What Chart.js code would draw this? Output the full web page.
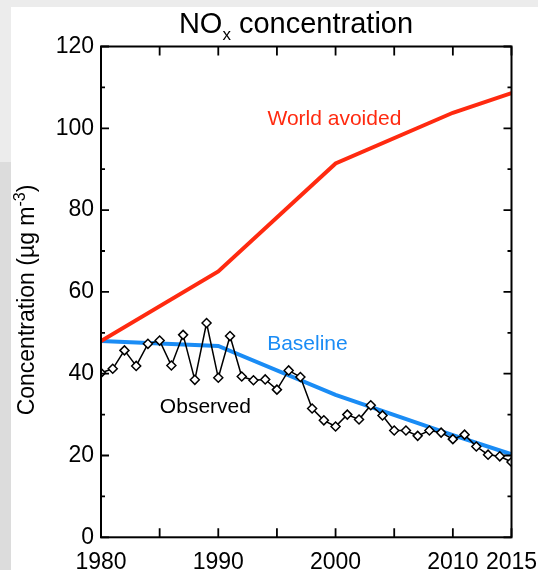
<!DOCTYPE html>
<html><head><meta charset="utf-8">
<script src="https://cdn.jsdelivr.net/npm/chart.js@4"></script>
<style>
html,body{margin:0;padding:0;}
body{width:538px;height:570px;background:#ececec;position:relative;overflow:hidden;}
#strip{position:absolute;left:0;top:162px;width:11px;height:408px;background:#dcdcdc;}
#panel{position:absolute;left:11px;top:7px;right:0;bottom:0;background:#fff;}
#wrap{position:absolute;left:0;top:0;width:538px;height:570px;}
</style></head>
<body>
<div id="strip"></div><div id="panel"></div>
<div id="wrap"><canvas id="c" width="538" height="570"></canvas></div>
<script>
// ---- data ----
const obsYears = [1980,1981,1982,1983,1984,1985,1986,1987,1988,1989,1990,1991,1992,1993,1994,1995,1996,1997,1998,1999,2000,2001,2002,2003,2004,2005,2006,2007,2008,2009,2010,2011,2012,2013,2014,2015];
const observed = [40.2,41.2,45.7,41.9,47.3,48.1,42.0,49.5,38.5,52.4,39.0,49.2,39.3,38.4,38.6,36.1,40.8,39.2,31.5,28.6,27.1,30.0,28.8,32.3,29.8,26.1,26.1,24.8,26.1,25.6,24.0,25.1,22.2,20.2,19.8,18.4];
const scenarioYears = [1980,1990,2000,2010,2015];
const worldAvoided = [48.0,65.0,91.4,103.8,108.6];
const baseline = [48.0,46.8,34.8,25.0,20.3];
const xTickLabels = [1980,1990,2000,2010,2015];
const yTickLabels = [0,20,40,60,80,100,120];
const seriesNames = ['World avoided','Baseline','Observed'];

const FONT = '"Liberation Sans", Arial, Helvetica, sans-serif';
const RED = '#ff2a10', BLUE = '#1a8cf5';

const pts = (xs, ys) => xs.map((x, i) => ({x: x, y: ys[i]}));

// label anchors (data space) for in-plot series names
const seriesLabelAnchors = [
  {text: seriesNames[0], color: RED,  x: 1999.9, y: 100.8},
  {text: seriesNames[1], color: BLUE, x: 1997.6, y: 45.7},
  {text: seriesNames[2], color: '#000', x: 1988.9, y: 30.3}
];

const framePlugin = {
  id: 'frame',
  afterDraw(chart) {
    const ctx = chart.ctx, ca = chart.chartArea;
    const xs = chart.scales.x, ys = chart.scales.y;
    ctx.save();
    ctx.strokeStyle = '#000';
    ctx.lineWidth = 2;
    ctx.strokeRect(ca.left, ca.top, ca.right - ca.left, ca.bottom - ca.top);
    ctx.lineWidth = 1.8;
    ctx.beginPath();
    xs.ticks.forEach(t => {
      const px = xs.getPixelForValue(t.value);
      ctx.moveTo(px, ca.bottom); ctx.lineTo(px, ca.bottom - 9);
      ctx.moveTo(px, ca.top); ctx.lineTo(px, ca.top + 9);
    });
    ys.ticks.forEach(t => {
      const py = ys.getPixelForValue(t.value);
      const len = yTickLabels.includes(t.value) ? 8 : 4;
      ctx.moveTo(ca.left, py); ctx.lineTo(ca.left + len, py);
      ctx.moveTo(ca.right, py); ctx.lineTo(ca.right - len, py);
    });
    ctx.stroke();

    // series name labels
    ctx.font = '21px ' + FONT;
    ctx.textAlign = 'center';
    ctx.textBaseline = 'alphabetic';
    seriesLabelAnchors.forEach(a => {
      ctx.fillStyle = a.color;
      ctx.fillText(a.text, xs.getPixelForValue(a.x), ys.getPixelForValue(a.y));
    });

    // title with subscript
    ctx.fillStyle = '#000';
    ctx.textAlign = 'left';
    const big = '29px ' + FONT, small = '17px ' + FONT;
    ctx.font = big; const w1 = ctx.measureText('NO').width;
    ctx.font = small; const w2 = ctx.measureText('x').width;
    ctx.font = big; const w3 = ctx.measureText(' concentration').width;
    let tx = 296 - (w1 + w2 + w3) / 2;
    const ty = 33;
    ctx.font = big; ctx.fillText('NO', tx, ty); tx += w1;
    ctx.font = small; ctx.fillText('x', tx, ty + 7); tx += w2;
    ctx.font = big; ctx.fillText(' concentration', tx, ty);

    // y-axis title with superscript
    ctx.save();
    ctx.translate(33.5, 300);
    ctx.rotate(-Math.PI / 2);
    const f1 = '23px ' + FONT, f2 = '16px ' + FONT;
    ctx.font = f1; const a1 = ctx.measureText('Concentration (\u00b5g m').width;
    ctx.font = f2; const a2 = ctx.measureText('-3').width;
    ctx.font = f1; const a3 = ctx.measureText(')').width;
    let yx = -(a1 + a2 + a3) / 2;
    ctx.font = f1; ctx.fillText('Concentration (\u00b5g m', yx, 0); yx += a1;
    ctx.font = f2; ctx.fillText('-3', yx, -9); yx += a2;
    ctx.font = f1; ctx.fillText(')', yx, 0);
    ctx.restore();
    ctx.restore();
  }
};

new Chart(document.getElementById('c'), {
  type: 'line',
  data: {
    datasets: [
      {label: seriesNames[2], data: pts(obsYears, observed), borderColor: '#000', borderWidth: 1.5,
       pointStyle: 'rectRot', pointRadius: 4.5, pointBackgroundColor: '#fff', pointBorderColor: '#000',
       pointBorderWidth: 1.5, tension: 0, clip: 0, order: 0},
      {label: seriesNames[0], data: pts(scenarioYears, worldAvoided), borderColor: RED, borderWidth: 4,
       pointRadius: 0, tension: 0, clip: 0, order: 1},
      {label: seriesNames[1], data: pts(scenarioYears, baseline), borderColor: BLUE, borderWidth: 4,
       pointRadius: 0, tension: 0, clip: 0, order: 2}
    ]
  },
  options: {
    responsive: false,
    animation: false,
    devicePixelRatio: 1,
    layout: {padding: {left: 0, right: 26.5, top: 46.5, bottom: 0}},
    plugins: {legend: {display: false}, title: {display: false}, tooltip: {enabled: false}},
    scales: {
      x: {
        type: 'linear', min: 1980, max: 2015,
        grid: {display: false, drawTicks: false}, border: {display: false},
        ticks: {stepSize: 5, autoSkip: false, maxRotation: 0, padding: 12, color: '#000',
                font: {family: FONT, size: 23},
                callback: v => xTickLabels.includes(v) ? String(v) : ''},
        afterFit(s) { s.height = 32.7; s.paddingLeft = 0; s.paddingRight = 0; }
      },
      y: {
        min: 0, max: 120,
        grid: {display: false, drawTicks: false}, border: {display: false},
        ticks: {stepSize: 10, padding: 7, color: '#000', font: {family: FONT, size: 23},
                callback: v => yTickLabels.includes(v) ? String(v) : ''},
        afterFit(s) { s.width = 101; s.paddingTop = 0; s.paddingBottom = 0; }
      }
    }
  },
  plugins: [framePlugin]
});
</script>
</body></html>
